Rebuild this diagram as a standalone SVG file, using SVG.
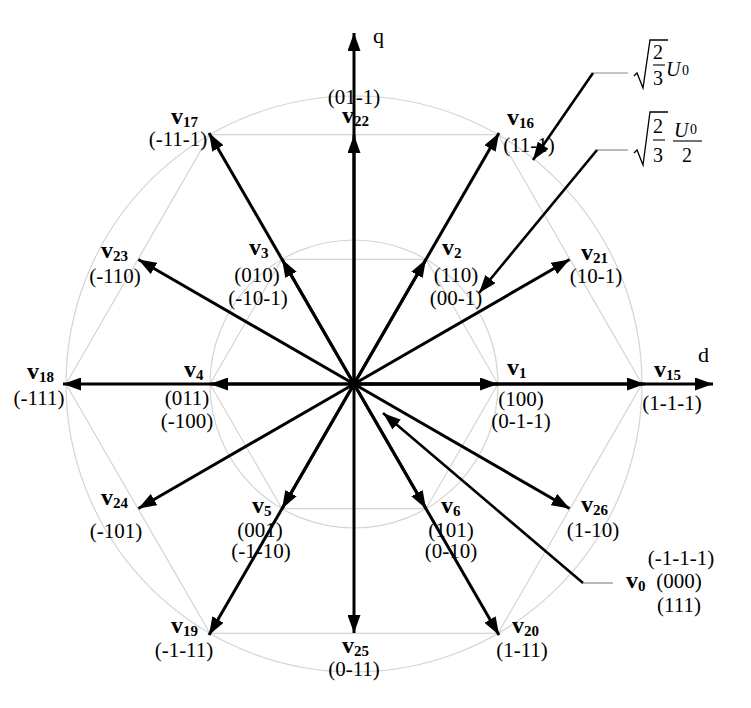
<svg xmlns="http://www.w3.org/2000/svg" width="751" height="708" viewBox="0 0 751 708">
<style>
.g{fill:none;stroke:#d4d4d4;stroke-width:1.2}
.vec{stroke:#000;stroke-width:3;fill:none;marker-end:url(#ah)}
.ptr{stroke:#000;stroke-width:2.6;fill:none;marker-end:url(#ah)}
.ld{stroke:#8a8a8a;stroke-width:1.2;fill:none}
.v{font-family:"Liberation Serif",serif;font-weight:bold;font-size:24px;fill:#000}
.s{font-size:15px}
.c{font-family:"Liberation Serif",serif;font-size:21px;fill:#000;text-anchor:middle}
.m{font-family:"Liberation Serif",serif;font-size:20px;fill:#000}
.sub{font-family:"Liberation Serif",serif;font-size:14px;fill:#000}
.mi{font-style:italic}
.ax{font-family:"Liberation Serif",serif;font-size:22px;fill:#000}
</style>
<defs>
<marker id="ah" markerUnits="userSpaceOnUse" markerWidth="19" markerHeight="13" refX="18" refY="6.5" orient="auto">
<path d="M0,0 L18,6.5 L0,13 Z" fill="#000"/>
</marker>
</defs>
<rect width="751" height="708" fill="#fff"/>
<g id="grid">
<circle class="g" cx="354" cy="384" r="288"/>
<circle class="g" cx="354" cy="384" r="144"/>
<polygon class="g" points="642,384 498,134.6 210,134.6 66,384 210,633.4 498,633.4"/>
<polygon class="g" points="498,384 426,259.3 282,259.3 210,384 282,508.7 426,508.7"/>
</g>
<g id="connectors">
<line class="vec" x1="354" y1="384" x2="713" y2="384"/>
<line class="vec" x1="354" y1="384" x2="354" y2="33"/>
<line class="vec" x1="354" y1="384" x2="645" y2="384"/>
<line class="vec" x1="354" y1="384" x2="499" y2="132.9"/>
<line class="vec" x1="354" y1="384" x2="209" y2="132.9"/>
<line class="vec" x1="354" y1="384" x2="63" y2="384"/>
<line class="vec" x1="354" y1="384" x2="209" y2="635.1"/>
<line class="vec" x1="354" y1="384" x2="499" y2="635.1"/>
<line class="vec" x1="354" y1="384" x2="569.6" y2="259.5"/>
<line class="vec" x1="354" y1="384" x2="354" y2="135"/>
<line class="vec" x1="354" y1="384" x2="138.4" y2="259.5"/>
<line class="vec" x1="354" y1="384" x2="138.4" y2="508.5"/>
<line class="vec" x1="354" y1="384" x2="354" y2="633"/>
<line class="vec" x1="354" y1="384" x2="569.6" y2="508.5"/>
<line class="vec" x1="354" y1="384" x2="498" y2="384"/>
<line class="vec" x1="354" y1="384" x2="426" y2="259.3"/>
<line class="vec" x1="354" y1="384" x2="282" y2="259.3"/>
<line class="vec" x1="354" y1="384" x2="210" y2="384"/>
<line class="vec" x1="354" y1="384" x2="282" y2="508.7"/>
<line class="vec" x1="354" y1="384" x2="426" y2="508.7"/>
<line class="ld" x1="593" y1="73" x2="628" y2="73"/>
<line class="ptr" x1="593" y1="73" x2="533" y2="160"/>
<line class="ld" x1="597" y1="150" x2="628" y2="150"/>
<line class="ptr" x1="597" y1="150" x2="479" y2="293"/>
<line class="ld" x1="583" y1="583" x2="613" y2="583"/>
<line class="ptr" x1="583" y1="583" x2="383" y2="413"/>
</g>
<g id="axes-labels">
<text class="ax" x="373" y="43">q</text>
<text class="ax" x="698" y="362">d</text>
</g>
<g id="v1"><text class="v" x="507" y="375">v<tspan class="s" dy="3">1</tspan></text><text class="c" x="521" y="406">(100)</text><text class="c" x="521" y="428">(0-1-1)</text></g>
<g id="v2"><text class="v" x="442" y="255">v<tspan class="s" dy="3">2</tspan></text><text class="c" x="456" y="282">(110)</text><text class="c" x="456" y="305">(00-1)</text></g>
<g id="v3"><text class="v" x="249" y="255">v<tspan class="s" dy="3">3</tspan></text><text class="c" x="257" y="282">(010)</text><text class="c" x="258" y="305">(-10-1)</text></g>
<g id="v4"><text class="v" x="184" y="377">v<tspan class="s" dy="3">4</tspan></text><text class="c" x="187" y="405">(011)</text><text class="c" x="187" y="428">(-100)</text></g>
<g id="v5"><text class="v" x="252" y="513">v<tspan class="s" dy="3">5</tspan></text><text class="c" x="260" y="537">(001)</text><text class="c" x="261" y="558">(-1-10)</text></g>
<g id="v6"><text class="v" x="441" y="513">v<tspan class="s" dy="3">6</tspan></text><text class="c" x="451" y="537">(101)</text><text class="c" x="451" y="558">(0-10)</text></g>
<g id="v15"><text class="v" x="654" y="377">v<tspan class="s" dy="3">15</tspan></text><text class="c" x="672" y="410">(1-1-1)</text></g>
<g id="v16"><text class="v" x="507" y="125">v<tspan class="s" dy="3">16</tspan></text><text class="c" x="529" y="152">(11-1)</text></g>
<g id="v17"><text class="v" x="171" y="124">v<tspan class="s" dy="3">17</tspan></text><text class="c" x="178" y="146">(-11-1)</text></g>
<g id="v18"><text class="v" x="27" y="379">v<tspan class="s" dy="3">18</tspan></text><text class="c" x="39" y="405">(-111)</text></g>
<g id="v19"><text class="v" x="171" y="633">v<tspan class="s" dy="3">19</tspan></text><text class="c" x="184" y="657">(-1-11)</text></g>
<g id="v20"><text class="v" x="512" y="633">v<tspan class="s" dy="3">20</tspan></text><text class="c" x="522" y="657">(1-11)</text></g>
<g id="v21"><text class="v" x="581" y="260">v<tspan class="s" dy="3">21</tspan></text><text class="c" x="596" y="283">(10-1)</text></g>
<g id="v22"><text class="c" x="354" y="104">(01-1)</text><text class="v" x="342" y="123">v<tspan class="s" dy="3">22</tspan></text></g>
<g id="v23"><text class="v" x="101" y="258">v<tspan class="s" dy="3">23</tspan></text><text class="c" x="115" y="283">(-110)</text></g>
<g id="v24"><text class="v" x="101" y="505">v<tspan class="s" dy="3">24</tspan></text><text class="c" x="116" y="538">(-101)</text></g>
<g id="v25"><text class="v" x="342" y="653">v<tspan class="s" dy="3">25</tspan></text><text class="c" x="354" y="676">(0-11)</text></g>
<g id="v26"><text class="v" x="581" y="512">v<tspan class="s" dy="3">26</tspan></text><text class="c" x="593" y="537">(1-10)</text></g>
<g id="v0"><text class="c" x="681" y="565">(-1-1-1)</text><text class="v" x="626" y="588">v<tspan class="s" dy="3">0</tspan></text><text class="c" x="679" y="588">(000)</text><text class="c" x="679" y="612">(111)</text></g>
<g id="formula1">
<path d="M634,76 L637,73 L643,88 L650,40 L668,40" fill="none" stroke="#000" stroke-width="1.3"/>
<text class="m" x="658" y="59" text-anchor="middle">2</text>
<line x1="653" y1="65" x2="665" y2="65" stroke="#000" stroke-width="1.1"/>
<text class="m" x="658" y="85" text-anchor="middle">3</text>
<text class="m mi" x="666" y="76">U</text>
<text class="sub" x="682" y="75">0</text>
</g>
<g id="formula2">
<path d="M634,153 L637,150 L643,165 L650,112 L668,112" fill="none" stroke="#000" stroke-width="1.3"/>
<text class="m" x="658" y="133" text-anchor="middle">2</text>
<line x1="653" y1="140" x2="665" y2="140" stroke="#000" stroke-width="1.1"/>
<text class="m" x="658" y="162" text-anchor="middle">3</text>
<text class="m mi" x="674" y="137">U</text>
<text class="sub" x="690" y="134">0</text>
<line x1="673" y1="141" x2="702" y2="141" stroke="#000" stroke-width="1.1"/>
<text class="m" x="687" y="162" text-anchor="middle">2</text>
</g>
</svg>
